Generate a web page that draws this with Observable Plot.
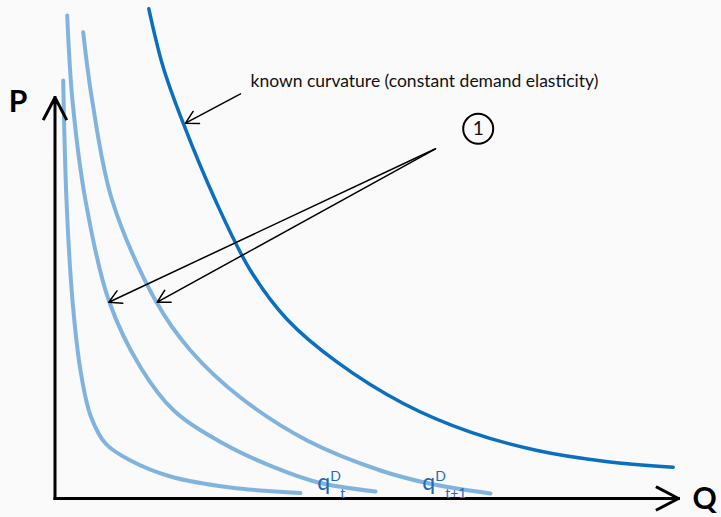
<!DOCTYPE html>
<html>
<head>
<meta charset="utf-8">
<script src="https://cdn.jsdelivr.net/npm/d3@7"></script>
<script src="https://cdn.jsdelivr.net/npm/@observablehq/plot@0.6"></script>
<style>
  html, body { margin: 0; padding: 0; background: #fafafa; }
  #chart svg { display: block; }
</style>
</head>
<body>
<div id="chart"></div>
<script>
// Demand curves in the (Q, P) plane, as [quantity, price] pairs.
const demandInner = [
  [8.2, 418], [11.5, 298], [17.5, 198], [25.5, 128], [35.5, 83], [50.5, 55],
  [75.5, 38], [115.5, 22], [175.5, 11], [245.5, 5.5]
];
const demandT = [
  [12.2, 483], [17.5, 398], [30.5, 298], [53.8, 198], [85.5, 131.3], [118.8, 88],
  [168.8, 54.7], [218.8, 31.3], [262.2, 16.3], [320.5, 7]
];
const demandT1 = [
  [28.2, 466.3], [37.2, 398], [57.2, 298], [100.5, 198], [135.5, 148], [185.5, 101],
  [252.2, 58], [325.5, 28], [375.5, 14.7], [435.5, 5]
];
const knownCurvature = [
  [93.8, 489.7], [108.2, 431.3], [128.2, 375.3], [160.5, 298], [195.5, 228],
  [232.2, 179], [282.2, 136.3], [348.8, 94.7], [415.5, 66.3], [482.2, 48],
  [548.8, 37.3], [618.2, 31.3]
];

// Axes with arrow tips, and their letters.
const axisLines = [
  {x1: 0, y1: 0, x2: 0, y2: 401},
  {x1: 0, y1: 0, x2: 623.5, y2: 0}
];
const axisNames = [
  {q: -37, p: 396, text: "P"},
  {q: 649.5, p: -1, text: "Q"}
];

// Annotation pointers, note text and the step marker.
const pointers = [
  {x1: 185.5, y1: 404.7, x2: 130.5, y2: 375.3},
  {x1: 380.5, y1: 349.7, x2: 53.8, y2: 196.3},
  {x1: 380.5, y1: 349.7, x2: 102.2, y2: 196.3}
];
const notes = [{q: 195.5, p: 411.3, text: "known curvature (constant demand elasticity)"}];
const stepMarker = [{q: 423.2, p: 369.7, text: "1"}];

// Curve labels: q with superscript D and a period subscript.
const curveLabels = [
  {q: 262.2, p: 8.5, base: "q", sup: "D", sub: "t"},
  {q: 367.2, p: 8.5, base: "q", sup: "D", sub: "t+1"}
];

const light = "#80b4de";
const dark = "#0a6fbf";
const labelBlue = "#1f6cb4";
const font = "Lato, 'Open Sans', sans-serif";

const chart = Plot.plot({
  width: 721,
  height: 517,
  margin: 0,
  x: {domain: [-54.5, 666.5], axis: null},
  y: {domain: [-19, 498], axis: null},
  style: {background: "#fafafa", fontFamily: font, overflow: "visible"},
  marks: [
    Plot.line(demandInner, {x: d => d[0], y: d => d[1], stroke: light, strokeWidth: 4, curve: "catmull-rom"}),
    Plot.line(demandT, {x: d => d[0], y: d => d[1], stroke: light, strokeWidth: 4, curve: "catmull-rom"}),
    Plot.line(demandT1, {x: d => d[0], y: d => d[1], stroke: light, strokeWidth: 4, curve: "catmull-rom"}),
    Plot.line(knownCurvature, {x: d => d[0], y: d => d[1], stroke: dark, strokeWidth: 3.5, curve: "catmull-rom"}),
    Plot.arrow(axisLines, {x1: "x1", y1: "y1", x2: "x2", y2: "y2", stroke: "black", strokeWidth: 3,
      headLength: 12, headAngle: 55, strokeLinecap: "square"}),
    Plot.text(axisNames, {x: "q", y: "p", text: "text", fontSize: 30, fontWeight: "bold", fill: "black", fontFamily: font}),
    Plot.arrow(pointers, {x1: "x1", y1: "y1", x2: "x2", y2: "y2", stroke: "black", strokeWidth: 1.5,
      headLength: 14, headAngle: 58}),
    Plot.text(notes, {x: "q", y: "p", text: "text", textAnchor: "start", lineAnchor: "bottom",
      fontSize: 17.5, fill: "#111"}),
    Plot.dot(stepMarker, {x: "q", y: "p", r: 15, stroke: "black", strokeWidth: 2, fill: "none"}),
    Plot.text(stepMarker, {x: "q", y: "p", text: "text", fontSize: 19, fill: "#111"}),
    Plot.text(curveLabels, {x: "q", y: "p", text: "base", textAnchor: "start", lineAnchor: "bottom",
      fontSize: 23, fill: labelBlue}),
    Plot.text(curveLabels, {x: "q", y: "p", text: "sup", textAnchor: "start", lineAnchor: "bottom",
      dx: 13, dy: -9, fontSize: 14, fill: labelBlue}),
    Plot.text(curveLabels, {x: "q", y: "p", text: "sub", textAnchor: "start", lineAnchor: "bottom",
      dx: 23, dy: 8, fontSize: 14, fill: labelBlue})
  ]
});

document.getElementById("chart").appendChild(chart);
</script>
</body>
</html>
